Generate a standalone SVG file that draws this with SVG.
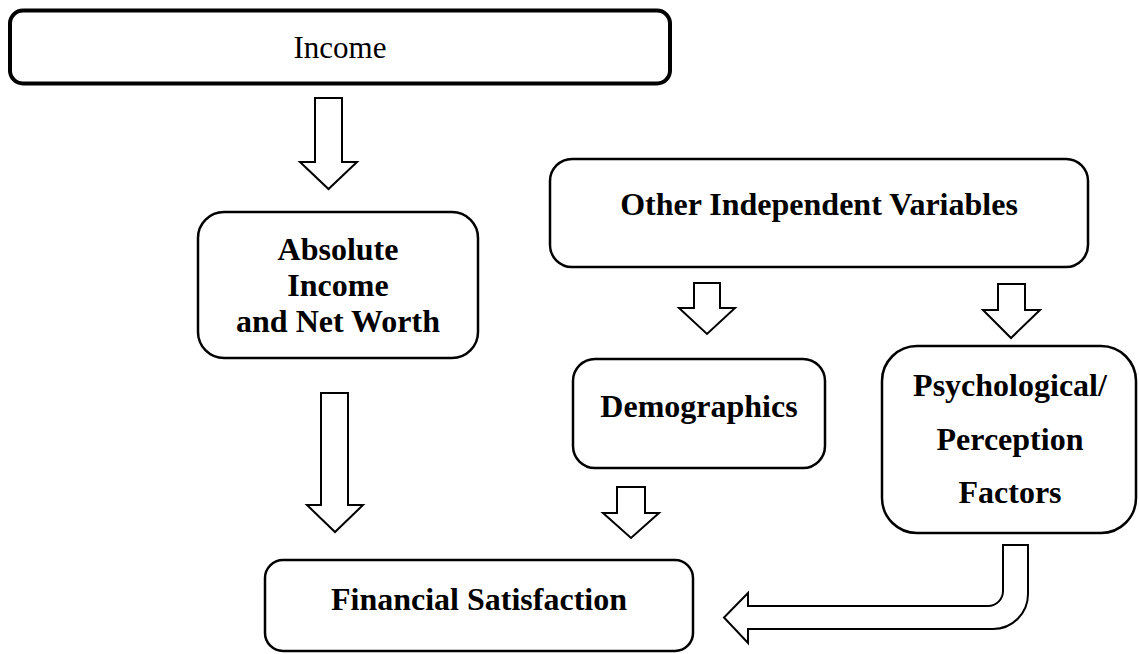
<svg xmlns="http://www.w3.org/2000/svg" width="1139" height="654" viewBox="0 0 1139 654">
  <style>
    .box { fill: #ffffff; stroke: #000000; stroke-width: 2.5; }
    .box-heavy { fill: #ffffff; stroke: #000000; stroke-width: 4; }
    .arrow { fill: #ffffff; stroke: #000000; stroke-width: 2; stroke-linejoin: miter; }
    .label { font-family: "Liberation Serif", "Times New Roman", serif; font-size: 32px; font-weight: bold; fill: #000000; text-anchor: middle; }
    .label-plain { font-family: "Liberation Serif", "Times New Roman", serif; font-size: 31px; fill: #000000; text-anchor: middle; }
  </style>
  <rect width="1139" height="654" fill="#ffffff"/>

  <!-- block arrows -->
  <g id="connectors">
    <polygon class="arrow" points="315,98 342,98 342,162 357,162 328.5,189 300,162 315,162"/>
    <polygon class="arrow" points="321,393 348,393 348,505 363,505 335,532 307,505 321,505"/>
    <polygon class="arrow" points="694,283 720,283 720,308 735,308 707,334 679,308 694,308"/>
    <polygon class="arrow" points="998,284 1025,284 1025,310 1040,310 1011,338 983,310 998,310"/>
    <polygon class="arrow" points="617,487 645,487 645,513 659,513 631,538 603,513 617,513"/>
    <path class="arrow" d="M1003,545 L1028,545 L1028,594 A35,35 0 0 1 993,629 L748,629 L748,643 L724,617.5 L748,593 L748,606 L988,606 A15,15 0 0 0 1003,591 Z"/>
  </g>

  <g id="income">
    <rect class="box-heavy" x="10" y="10.5" width="660" height="73" rx="13"/>
    <text class="label-plain" x="340" y="58">Income</text>
  </g>

  <g id="absolute-income">
    <rect class="box" x="198" y="212" width="280" height="146" rx="26"/>
    <text class="label" x="338" y="260">Absolute</text>
    <text class="label" x="338" y="296">Income</text>
    <text class="label" x="338" y="332">and Net Worth</text>
  </g>

  <g id="other-variables">
    <rect class="box" x="550" y="159" width="538" height="108" rx="22"/>
    <text class="label" x="819" y="215">Other Independent Variables</text>
  </g>

  <g id="demographics">
    <rect class="box" x="573" y="359" width="252" height="109" rx="22"/>
    <text class="label" x="699" y="417">Demographics</text>
  </g>

  <g id="psychological">
    <rect class="box" x="882" y="346" width="254" height="187" rx="35"/>
    <text class="label" x="1010" y="396">Psychological/</text>
    <text class="label" x="1010" y="450">Perception</text>
    <text class="label" x="1010" y="503">Factors</text>
  </g>

  <g id="financial-satisfaction">
    <rect class="box" x="265" y="560" width="428" height="91" rx="18"/>
    <text class="label" x="479" y="610">Financial Satisfaction</text>
  </g>
</svg>
